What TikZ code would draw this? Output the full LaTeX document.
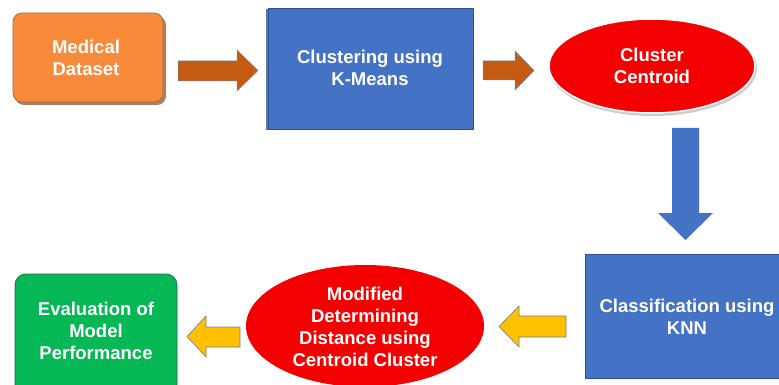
\documentclass[tikz,border=0pt]{standalone}
\usepackage{fontspec}
\setmainfont{Liberation Sans}
\usetikzlibrary{shapes.geometric}
\definecolor{orangebox}{HTML}{F98A3A}
\definecolor{orangeedge}{HTML}{8A4A1A}
\definecolor{brownarrow}{HTML}{C55A11}
\definecolor{bluebox}{HTML}{4472C4}
\definecolor{blueedge}{HTML}{2F528F}
\definecolor{redfill}{HTML}{F50000}
\definecolor{greenbox}{HTML}{05B755}
\definecolor{greenedge}{HTML}{1F6B3F}
\definecolor{yellowarrow}{HTML}{FFC000}
\definecolor{grayedge}{HTML}{6F7F90}
\tikzset{
  lbl/.style={text=white, font=\bfseries\fontsize{18.5}{22}\selectfont, align=center},
  bluerect/.style={fill=bluebox, draw=blueedge, line width=0.8pt},
  brownblock/.style={fill=brownarrow, draw=blueedge!70, line width=0.5pt},
  yellowblock/.style={fill=yellowarrow, draw=grayedge, line width=0.6pt},
}
\begin{document}
\begin{tikzpicture}[x=1pt,y=-1pt]
\useasboundingbox (0,0) rectangle (779,385);
\clip (0,0) rectangle (779,385);
\fill[white] (0,0) rectangle (779,385);

% Medical Dataset
\fill[orangeedge!70, rounded corners=9pt] (15,16) rectangle (166,105);
\draw[fill=orangebox, draw=orangeedge!80, line width=0.8pt, rounded corners=9pt] (13,13) rectangle (163,102);
\node[lbl] (med) at (86,58) {Medical\\Dataset};

% arrow 1
\draw[brownblock] (178,61) -- (237,61) -- (237,50) -- (258,70.5) -- (237,91) -- (237,81) -- (178,81) -- cycle;

% Clustering
\fill[blueedge!80] (266,9) rectangle (472,130);
\draw[bluerect] (268,8) rectangle (473,129);
\node[lbl] (clu) at (370,68) {Clustering using\\K-Means};

% arrow 2
\draw[brownblock] (483,61) -- (515,61) -- (515,51) -- (534,70.5) -- (515,90) -- (515,80) -- (483,80) -- cycle;

% Cluster Centroid
\fill[gray!40] (653,68) ellipse [x radius=104, y radius=48];
\draw[fill=redfill, draw=white, line width=1.5pt] (652,66) ellipse [x radius=103, y radius=47];
\node[lbl] (cen) at (652,66) {Cluster\\Centroid};

% down arrow
\fill[bluebox] (672,128) -- (699,128) -- (699,213) -- (713,213) -- (685.5,240) -- (658,213) -- (672,213) -- cycle;

% Classification
\draw[bluerect] (585,254) rectangle (800,378);
\node[lbl] (cls) at (687,317) {Classification using\\KNN};

% yellow arrow right
\draw[yellowblock] (566,316) -- (519,316) -- (519,306) -- (499,326.5) -- (519,347) -- (519,337) -- (566,337) -- cycle;

% Modified ellipse
\fill[redfill] (365,326) ellipse [x radius=119, y radius=61];
\node[lbl] (mod) at (365,327) {Modified\\Determining\\Distance using\\Centroid Cluster};

% yellow arrow left
\draw[yellowblock] (240,327) -- (206,327) -- (206,316) -- (187,336.5) -- (206,357) -- (206,347) -- (240,347) -- cycle;

% Evaluation
\draw[fill=greenbox, draw=greenedge, line width=0.8pt, rounded corners=11pt] (15,274) rectangle (177,395);
\node[lbl] (eva) at (96,331) {Evaluation of\\Model\\Performance};
\end{tikzpicture}
\end{document}
